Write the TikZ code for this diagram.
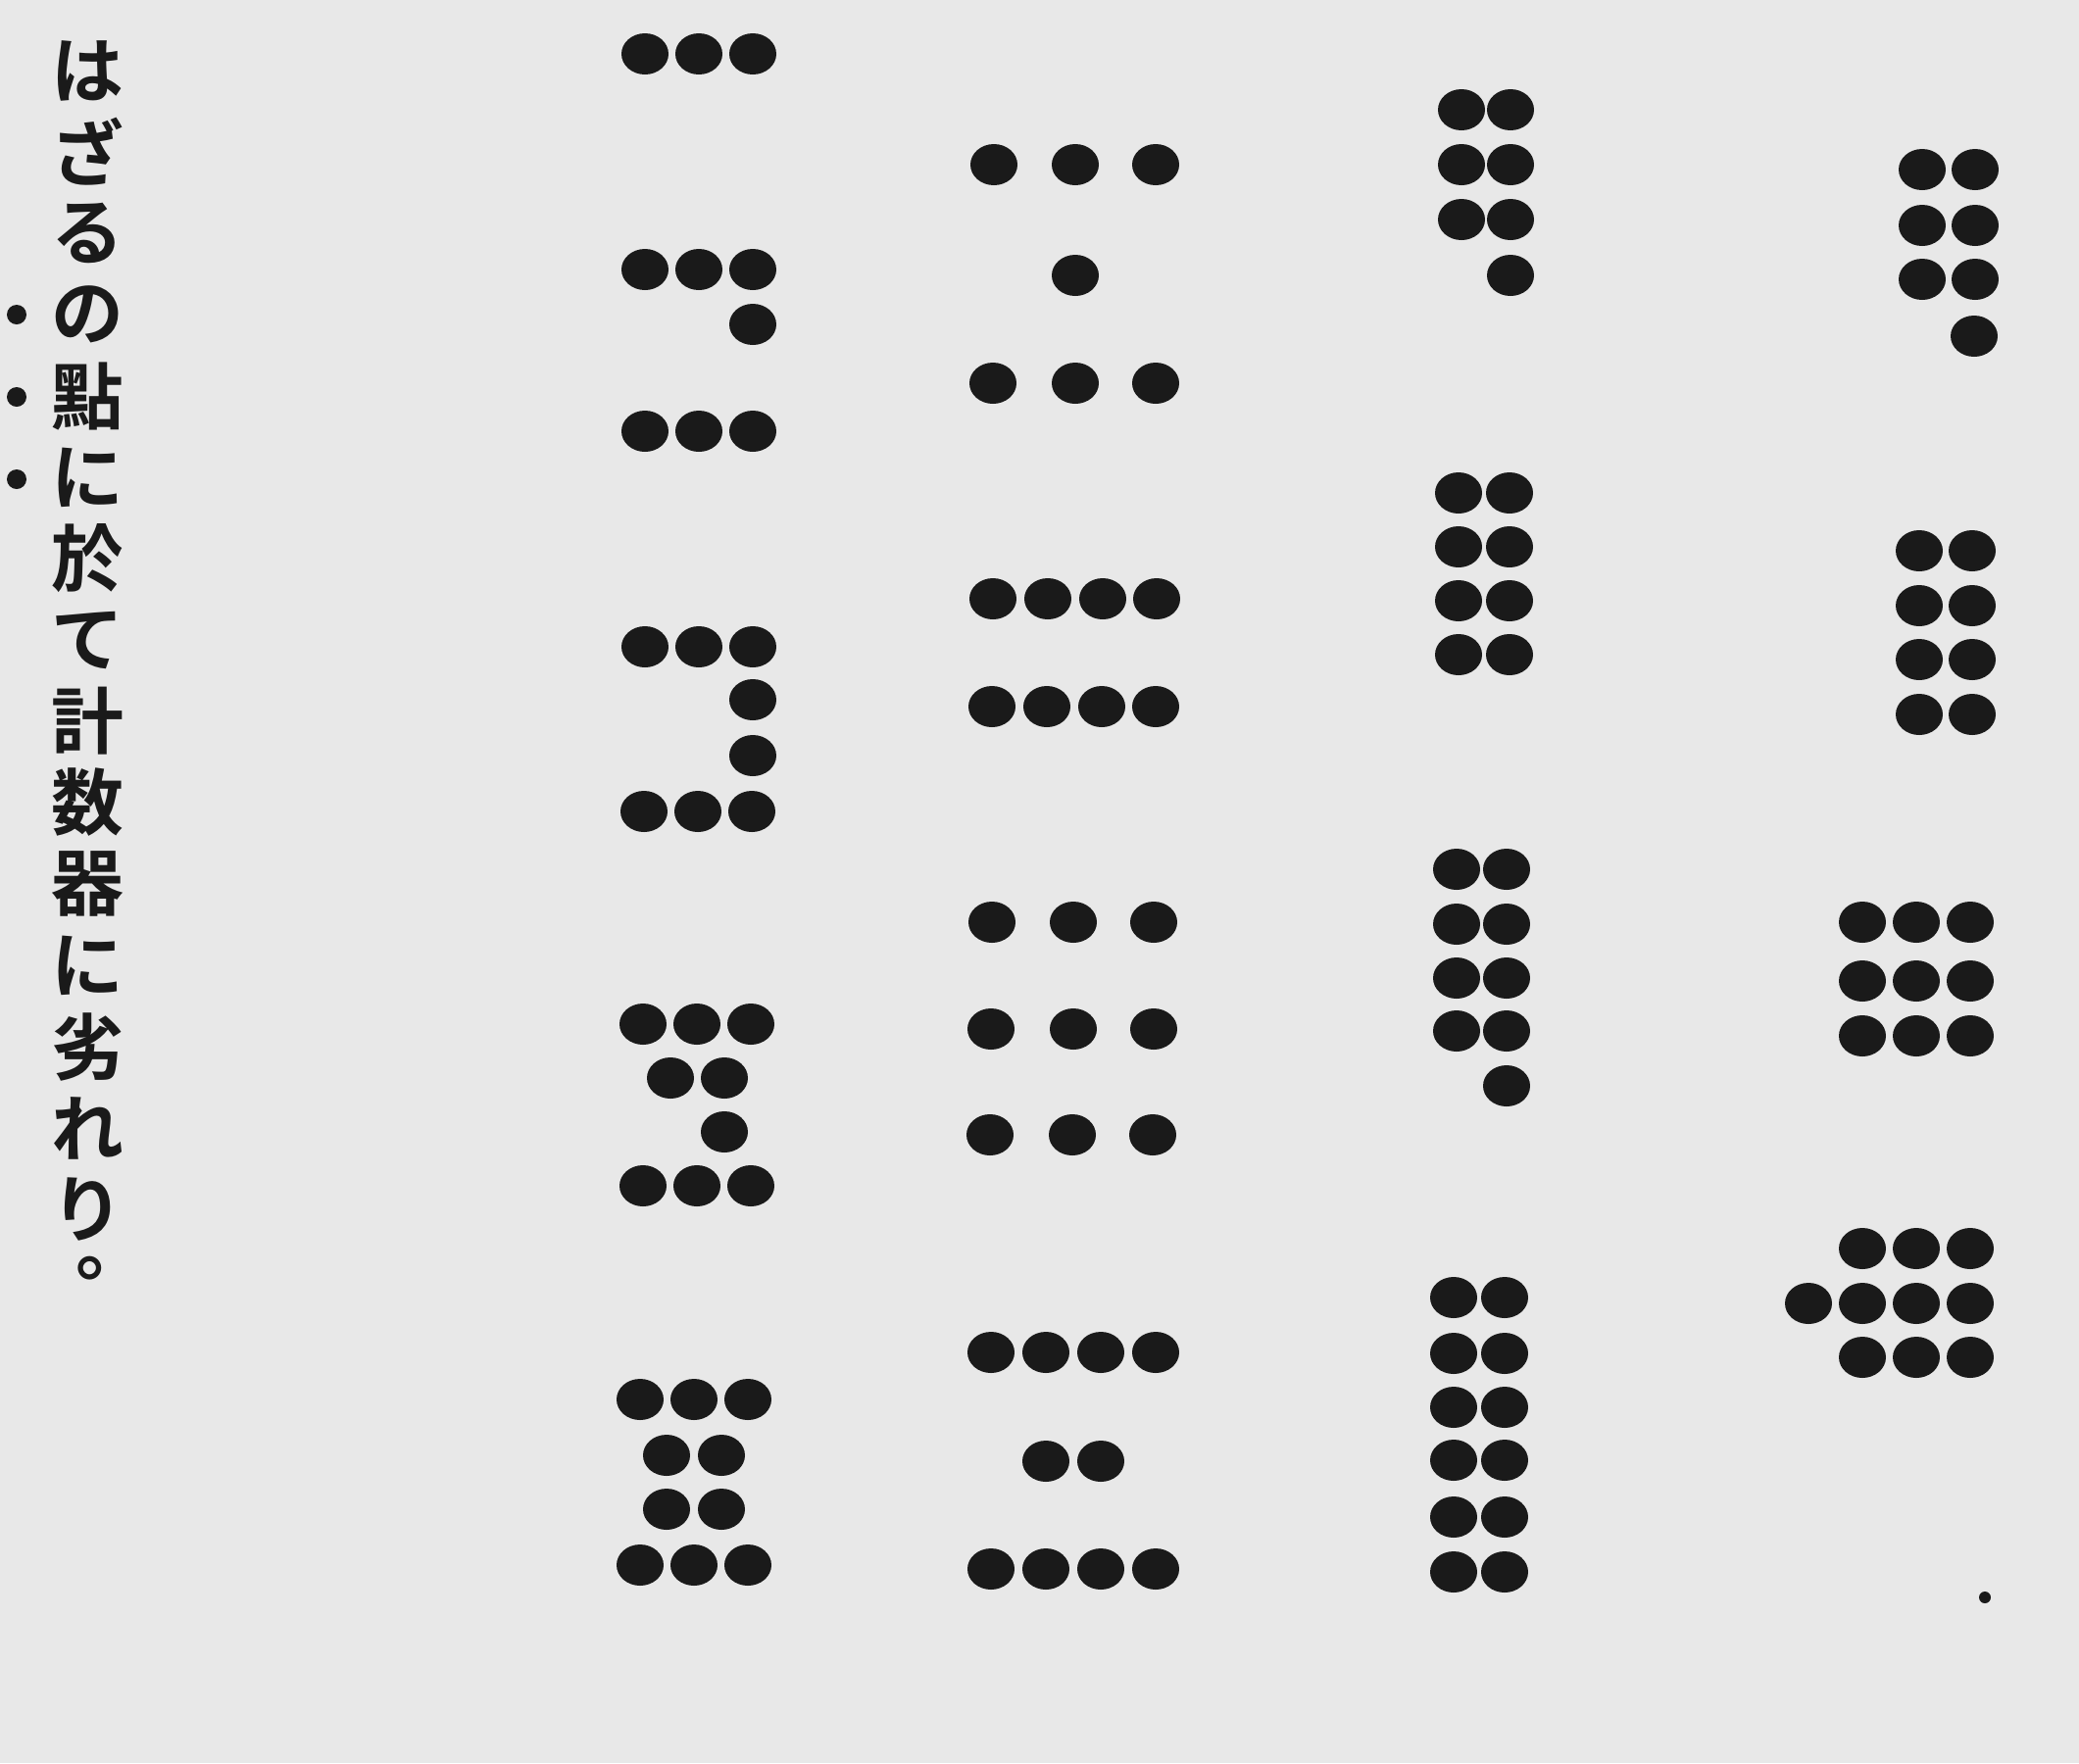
\documentclass[tikz,border=0pt]{standalone}
\usepackage{fontspec}
\newfontfamily\cjkfont{Noto Sans CJK JP}[BoldFont={Noto Sans CJK JP Bold}]
\usepackage{tikz}
\usetikzlibrary{positioning}
\definecolor{paper}{HTML}{E8E8E8}
\definecolor{ink}{HTML}{1A1A1A}
\newcommand{\dotrow}[2]{\foreach \x in {#2} \fill[dot] (\x,#1) ellipse [x radius=24, y radius=21];}

\begin{document}
\begin{tikzpicture}[
  x=0.01cm, y=-0.01cm,
  dot/.style={fill=ink},
  kana/.style={font=\cjkfont\bfseries\fontsize{21pt}{21pt}\selectfont,
    text=ink, inner sep=0pt}
]
\fill[paper] (0,0) rectangle (2121,1799);
\useasboundingbox (0,0) rectangle (2121,1799);
\foreach \ch [count=\i from 0] in {は,ざ,る,の,點,に,於,て,計,数,器,に,劣,れ,り}
  \node[kana] (k\i) at (89,72+83*\i) {\ch};
\node[kana] (stop) at (114,1294) {。};
\foreach \y in {321,405,489} \fill[dot] (17,\y) circle [radius=10];
% column one
\dotrow{55}{658,713,768}
\dotrow{275}{658,713,768}
\dotrow{331}{768}
\dotrow{440}{658,713,768}
\dotrow{660}{658,713,768}
\dotrow{714}{768}
\dotrow{771}{768}
\dotrow{828}{657,712,767}
\dotrow{1045}{656,711,766}
\dotrow{1100}{684,739}
\dotrow{1155}{739}
\dotrow{1210}{656,711,766}
\dotrow{1428}{653,708,763}
\dotrow{1485}{680,736}
\dotrow{1540}{680,736}
\dotrow{1597}{653,708,763}
% column two
\dotrow{168}{1014,1097,1179}
\dotrow{281}{1097}
\dotrow{391}{1013,1097,1179}
\dotrow{611}{1013,1069,1125,1180}
\dotrow{721}{1012,1068,1124,1179}
\dotrow{941}{1012,1095,1177}
\dotrow{1050}{1011,1095,1177}
\dotrow{1158}{1010,1094,1176}
\dotrow{1380}{1011,1067,1123,1179}
\dotrow{1491}{1067,1123}
\dotrow{1601}{1011,1067,1123,1179}
% column three
\foreach \y in {112,168,224} {\dotrow{\y}{1491,1541}}
\dotrow{281}{1541}
\foreach \y in {503,558,613,668} {\dotrow{\y}{1488,1540}}
\foreach \y in {887,943,998,1052} {\dotrow{\y}{1486,1537}}
\dotrow{1108}{1537}
\foreach \y in {1324,1381,1436,1490,1548,1604} {\dotrow{\y}{1483,1535}}
% column four
\foreach \y in {173,230,285} {\dotrow{\y}{1961,2015}}
\dotrow{343}{2014}
\foreach \y in {562,618,673,729} {\dotrow{\y}{1958,2012}}
\foreach \y in {941,1001,1057} {\dotrow{\y}{1900,1955,2010}}
\dotrow{1274}{1900,1955,2010}
\dotrow{1330}{1845,1900,1955,2010}
\dotrow{1385}{1900,1955,2010}
\fill[dot] (2025,1630) circle [radius=6];
\end{tikzpicture}
\end{document}
